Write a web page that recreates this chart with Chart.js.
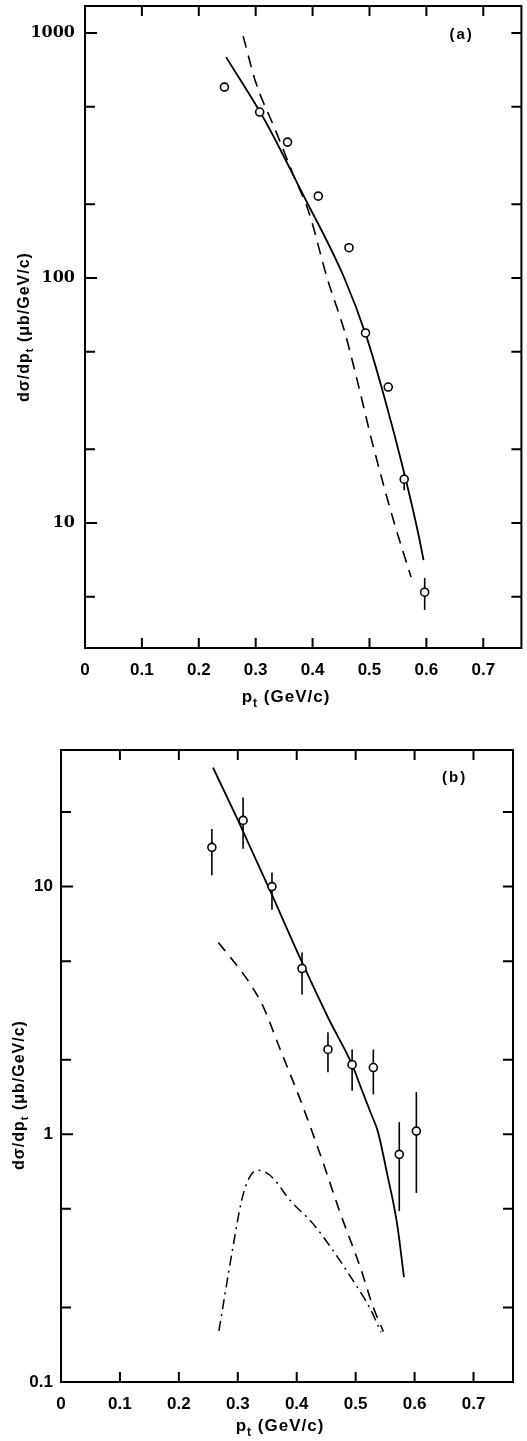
<!DOCTYPE html>
<html>
<head>
<meta charset="utf-8">
<script src="https://cdn.jsdelivr.net/npm/chart.js@4.4.1/dist/chart.umd.min.js"></script>
<style>
  html, body { margin: 0; padding: 0; background: #fff; }
  body { width: 527px; height: 1441px; position: relative; overflow: hidden; }
  .panel { position: absolute; left: 0; }
</style>
</head>
<body>
<div class="panel" style="top:0"><canvas id="chartA" width="527" height="715"></canvas></div>
<div class="panel" style="top:730px"><canvas id="chartB" width="527" height="711"></canvas></div>
<script>
// ---- panel (a) ----
const xTicks = [0, 0.1, 0.2, 0.3, 0.4, 0.5, 0.6, 0.7];

const ptA = [0.245, 0.307, 0.356, 0.410, 0.464, 0.493, 0.533, 0.561, 0.597];
const sigA = [602, 476, 359, 216, 133, 59.7, 35.9, 15.1, 5.22];
const errLoA = [null, null, null, null, null, null, null, 13.6, 4.42];
const errHiA = [null, null, null, null, null, null, null, 16.1, 5.97];

const solidXA = [0.248, 0.316, 0.382, 0.455, 0.495, 0.526, 0.561, 0.587, 0.595];
const solidYA = [798, 441, 222, 101, 57.4, 32.7, 16.0, 8.77, 7.06];

const dashXA = [0.278, 0.300, 0.335, 0.365, 0.394, 0.425, 0.457, 0.477, 0.507, 0.542, 0.573];
const dashYA = [972, 631, 400, 268, 184, 101, 59.7, 39.4, 20.4, 10.3, 6.02];

const yTicksA = [5, 10, 20, 50, 100, 200, 500, 1000];
const yLabelsA = [10, 100, 1000];

// ---- panel (b) ----
const ptB = [0.256, 0.309, 0.358, 0.409, 0.453, 0.494, 0.530, 0.574, 0.603];
const sigB = [14.4, 18.5, 10.0, 4.67, 2.20, 1.91, 1.86, 0.83, 1.03];
const errLoB = [11.1, 14.2, 8.07, 3.67, 1.78, 1.50, 1.45, 0.49, 0.58];
const errHiB = [17.1, 22.9, 11.4, 5.42, 2.58, 2.20, 2.20, 1.12, 1.48];

const solidXB = [0.258, 0.300, 0.355, 0.409, 0.455, 0.494, 0.510, 0.525, 0.538, 0.553, 0.570, 0.582];
const solidYB = [30.2, 18.6, 9.6, 4.95, 2.90, 1.91, 1.52, 1.23, 1.02, 0.70, 0.44, 0.265];

const dashXB = [0.267, 0.304, 0.324, 0.343, 0.372, 0.406, 0.443, 0.474, 0.508, 0.530, 0.547];
const dashYB = [5.95, 4.62, 3.95, 3.28, 2.20, 1.38, 0.79, 0.48, 0.29, 0.20, 0.16];

const dotXB = [0.268, 0.292, 0.307, 0.321, 0.334, 0.348, 0.360, 0.389, 0.426, 0.460, 0.494, 0.525, 0.543];
const dotYB = [0.161, 0.353, 0.547, 0.678, 0.716, 0.70, 0.665, 0.540, 0.44, 0.344, 0.26, 0.197, 0.159];

const yTicksB = [0.1, 0.2, 0.5, 1, 2, 5, 10, 20];
const yLabelsB = [0.1, 1, 10];

const pairs = (xs, ys) => xs.map((x, i) => ({ x: x, y: ys[i] }));

// frame, inward ticks, error bars and texts
const framePlugin = {
  id: 'frame',
  beforeDatasetsDraw(chart) {
    const ds = chart.data.datasets[0];
    const meta = chart.getDatasetMeta(0);
    const ys = chart.scales.y;
    const ctx = chart.ctx;
    ctx.save();
    ctx.strokeStyle = '#000';
    ctx.lineWidth = 1.6;
    meta.data.forEach((el, i) => {
      if (ds.errLo[i] == null) return;
      ctx.beginPath();
      ctx.moveTo(el.x, ys.getPixelForValue(ds.errHi[i]));
      ctx.lineTo(el.x, ys.getPixelForValue(ds.errLo[i]));
      ctx.stroke();
    });
    ctx.restore();
  },
  afterDatasetsDraw(chart, args, o) {
    const ctx = chart.ctx;
    const a = chart.chartArea;
    const xs = chart.scales.x, ys = chart.scales.y;
    ctx.save();
    ctx.strokeStyle = '#000';
    ctx.lineWidth = 2;
    ctx.strokeRect(a.left, a.top, a.right - a.left, a.bottom - a.top);
    ys.ticks.forEach(t => {
      const y = ys.getPixelForValue(t.value);
      if (y <= a.top + 1 || y >= a.bottom - 1) return;
      const len = o.majors.includes(t.value) ? 12 : 10;
      ctx.beginPath();
      ctx.moveTo(a.left, y); ctx.lineTo(a.left + len, y);
      ctx.moveTo(a.right, y); ctx.lineTo(a.right - 10, y);
      ctx.stroke();
    });
    xs.ticks.forEach(t => {
      const x = xs.getPixelForValue(t.value);
      if (x <= a.left + 1 || x >= a.right - 1) return;
      ctx.beginPath();
      ctx.moveTo(x, a.bottom); ctx.lineTo(x, a.bottom - 10);
      ctx.moveTo(x, a.top); ctx.lineTo(x, a.top + 10);
      ctx.stroke();
    });

    ctx.fillStyle = '#000';
    ctx.letterSpacing = '1px';
    // panel letter
    ctx.font = 'bold 15px "Liberation Sans"';
    ctx.letterSpacing = '2px';
    ctx.textAlign = 'left';
    ctx.textBaseline = 'middle';
    ctx.fillText(o.letter, a.right - o.letterDx, a.top + o.letterDy);
    ctx.letterSpacing = '1px';

    // x title: p_t (GeV/c)
    const drawTitle = (cx, cy) => {
      const big = 'bold 17px "Liberation Sans"', small = 'bold 12px "Liberation Sans"';
      const rest = ' (GeV/c)';
      ctx.font = big; const wp = ctx.measureText('p').width, wr = ctx.measureText(rest).width;
      ctx.font = small; const wt = ctx.measureText('t').width;
      let x = cx - (wp + wt + wr) / 2;
      ctx.textAlign = 'left'; ctx.textBaseline = 'alphabetic';
      ctx.font = big; ctx.fillText('p', x, cy); x += wp;
      ctx.font = small; ctx.fillText('t', x, cy + 5); x += wt;
      ctx.font = big; ctx.fillText(rest, x, cy);
    };
    drawTitle(o.xTitleX, o.xTitleY);

    // y title: dσ/dp_t (μb/GeV/c), rotated
    ctx.translate(o.yTitleX, o.yTitleY);
    ctx.rotate(-Math.PI / 2);
    const big = 'bold 16px "Liberation Sans"', small = 'bold 11px "Liberation Sans"';
    const p1 = 'd\u03C3/dp', p3 = ' (\u03BCb/GeV/c)';
    ctx.font = big; const w1 = ctx.measureText(p1).width, w3 = ctx.measureText(p3).width;
    ctx.font = small; const w2 = ctx.measureText('t').width;
    let x = -(w1 + w2 + w3) / 2;
    ctx.textAlign = 'left'; ctx.textBaseline = 'middle';
    ctx.font = big; ctx.fillText(p1, x, 0); x += w1;
    ctx.font = small; ctx.fillText('t', x, 5); x += w2;
    ctx.font = big; ctx.fillText(p3, x, 0);
    ctx.restore();
  }
};

function makeChart(id, cfg) {
  const datasets = [
    {
      data: pairs(cfg.ptX, cfg.ptY),
      errLo: cfg.errLo, errHi: cfg.errHi,
      showLine: false,
      pointRadius: 4,
      pointBackgroundColor: '#fff',
      pointBorderColor: '#000',
      pointBorderWidth: 1.6
    }
  ];
  cfg.curves.forEach(c => datasets.push({
    data: pairs(c.x, c.y),
    showLine: true,
    pointRadius: 0,
    borderColor: '#000',
    borderWidth: c.width,
    borderDash: c.dash,
    cubicInterpolationMode: 'monotone',
    fill: false
  }));

  return new Chart(document.getElementById(id).getContext('2d'), {
    type: 'scatter',
    data: { datasets: datasets },
    options: {
      responsive: false,
      animation: false,
      layout: { padding: cfg.padding },
      plugins: {
        legend: { display: false },
        tooltip: { enabled: false },
        frame: cfg.frame
      },
      scales: {
        x: {
          type: 'linear',
          min: 0,
          max: 0.767,
          grid: { display: false, drawTicks: false },
          border: { display: false },
          afterBuildTicks: s => { s.ticks = xTicks.map(v => ({ value: v })); },
          afterFit: s => { s.height = cfg.xHeight; s.paddingLeft = 0; s.paddingRight = 0; },
          ticks: {
            autoSkip: false,
            maxRotation: 0,
            padding: cfg.xPad,
            color: '#000',
            font: { family: 'Liberation Sans', weight: 'bold', size: 17 },
            callback: v => v === 0 ? '0' : v.toFixed(1)
          }
        },
        y: {
          type: 'logarithmic',
          min: cfg.yMin,
          max: cfg.yMax,
          grid: { display: false, drawTicks: false },
          border: { display: false },
          afterBuildTicks: s => { s.ticks = cfg.yTicks.map(v => ({ value: v })); },
          afterFit: s => { s.width = cfg.yWidth; s.paddingTop = 0; s.paddingBottom = 0; },
          ticks: {
            autoSkip: false,
            padding: cfg.yPad,
            color: '#000',
            font: cfg.yFont,
            callback: v => cfg.yLabels.includes(v) ? String(v) : ''
          }
        }
      }
    },
    plugins: [framePlugin]
  });
}

makeChart('chartA', {
  ptX: ptA, ptY: sigA, errLo: errLoA, errHi: errHiA,
  curves: [
    { x: solidXA, y: solidYA, width: 1.8, dash: [] },
    { x: dashXA, y: dashYA, width: 1.6, dash: [12, 8] }
  ],
  padding: { left: 0, top: 6, right: 1, bottom: 0 },
  xHeight: 67, xPad: 12,
  yWidth: 85, yPad: 10,
  yMin: 3.09, yMax: 1290,
  yTicks: yTicksA, yLabels: yLabelsA,
  yFont: { family: 'DejaVu Serif', weight: 'bold', size: 16 },
  frame: { letter: '(a)', letterDx: 72, letterDy: 29, majors: yLabelsA,
           xTitleX: 286, xTitleY: 702, yTitleX: 25, yTitleY: 327 }
});

makeChart('chartB', {
  ptX: ptB, ptY: sigB, errLo: errLoB, errHi: errHiB,
  curves: [
    { x: solidXB, y: solidYB, width: 1.8, dash: [] },
    { x: dashXB, y: dashYB, width: 1.6, dash: [11, 8] },
    { x: dotXB, y: dotYB, width: 1.5, dash: [10, 5, 2, 5] }
  ],
  padding: { left: 0, top: 20, right: 14, bottom: 0 },
  xHeight: 59, xPad: 12,
  yWidth: 61, yPad: 8,
  yMin: 0.1, yMax: 35.6,
  yTicks: yTicksB, yLabels: yLabelsB,
  yFont: { family: 'Liberation Sans', weight: 'bold', size: 17 },
  frame: { letter: '(b)', letterDx: 71, letterDy: 28, majors: yLabelsB,
           xTitleX: 280, xTitleY: 701, yTitleX: 20, yTitleY: 365 }
});
</script>
</body>
</html>
